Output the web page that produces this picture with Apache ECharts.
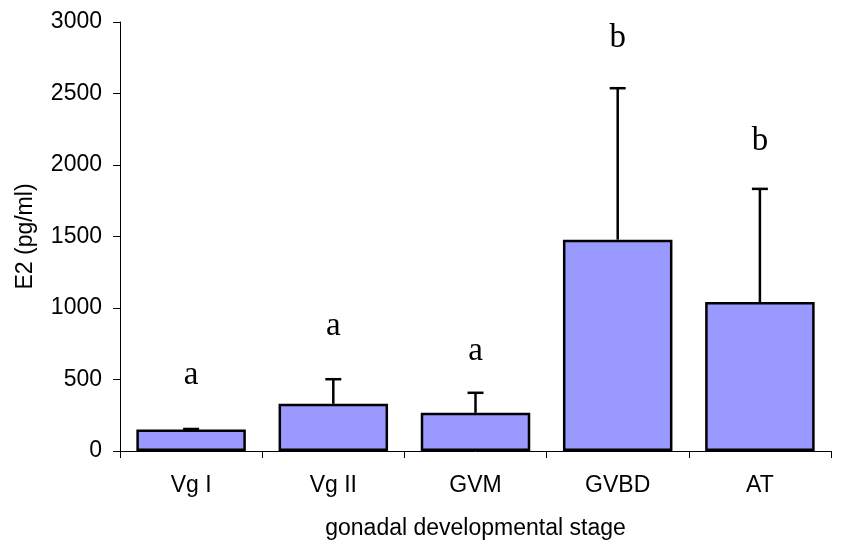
<!DOCTYPE html>
<html>
<head>
<meta charset="utf-8">
<script src="https://cdn.jsdelivr.net/npm/echarts@6/dist/echarts.min.js"></script>
<style>
  html, body { margin: 0; padding: 0; background: #fff; }
  #chart { width: 864px; height: 545px; }
</style>
</head>
<body>
<div id="chart"></div>
<script>
  /** Data */
  var stages = ['Vg I', 'Vg II', 'GVM', 'GVBD', 'AT'];
  var e2Mean = [151, 330, 267, 1478, 1042];
  var e2Upper = [154, 502, 407, 2537, 1833];
  var groupLetters = ['a', 'a', 'a', 'b', 'b'];
  var letterPos = [530, 872, 700, 2886, 2165];
  var yTicks = { min: 0, max: 3000, interval: 500 };

  var sansFont = 'Liberation Sans, Arial, sans-serif';

  /** Chart */
  var chart = echarts.init(document.getElementById('chart'));
  var option = {
    backgroundColor: '#fff',
    animation: false,
    grid: { left: 120, right: 33, top: 22, bottom: 93 },
    xAxis: {
      type: 'category',
      data: stages,
      name: 'gonadal developmental stage',
      nameLocation: 'middle',
      nameGap: 66,
      nameTextStyle: { color: '#000', fontSize: 23, fontFamily: sansFont, verticalAlign: 'top' },
      axisLine: { lineStyle: { color: '#000', width: 1 } },
      axisTick: { show: true, length: 7, lineStyle: { color: '#000' } },
      axisLabel: { color: '#000', fontSize: 23, fontFamily: sansFont, margin: 23 },
      splitLine: { show: false }
    },
    yAxis: {
      type: 'value',
      min: yTicks.min,
      max: yTicks.max,
      interval: yTicks.interval,
      name: 'E2 (pg/ml)',
      nameLocation: 'middle',
      nameGap: 83,
      nameTextStyle: { color: '#000', fontSize: 23, fontFamily: sansFont },
      axisLine: { show: true, lineStyle: { color: '#000', width: 1 } },
      axisTick: { show: true, length: 7, lineStyle: { color: '#000' } },
      axisLabel: {
        color: '#000', fontSize: 23, fontFamily: sansFont, margin: 18,
        formatter: function (v) { return String(v); }
      },
      splitLine: { show: false }
    },
    series: [
      {
        type: 'bar',
        data: e2Mean,
        barCategoryGap: '23%',
        itemStyle: { color: '#9999ff', borderColor: '#000', borderWidth: 2.5 },
        z: 2
      },
      {
        type: 'custom',
        z: 3,
        data: e2Mean.map(function (v, i) { return [i, v, e2Upper[i]]; }),
        renderItem: function (params, api) {
          var base = api.coord([api.value(0), api.value(1)]);
          var top = api.coord([api.value(0), api.value(2)]);
          var half = 8;
          var style = { stroke: '#000', lineWidth: 2.5 };
          return {
            type: 'group',
            children: [
              { type: 'line', shape: { x1: base[0], y1: base[1], x2: top[0], y2: top[1] }, style: style },
              { type: 'line', shape: { x1: top[0] - half, y1: top[1], x2: top[0] + half, y2: top[1] }, style: style }
            ]
          };
        }
      },
      {
        type: 'custom',
        z: 4,
        data: letterPos.map(function (v, i) { return [i, v]; }),
        renderItem: function (params, api) {
          var p = api.coord([api.value(0), api.value(1)]);
          return {
            type: 'text',
            style: {
              x: p[0],
              y: p[1],
              text: groupLetters[params.dataIndex],
              fill: '#000',
              font: '33px "Liberation Serif", "Times New Roman", serif',
              textAlign: 'center',
              textVerticalAlign: 'middle'
            }
          };
        }
      }
    ]
  };
  chart.setOption(option);
</script>
</body>
</html>
